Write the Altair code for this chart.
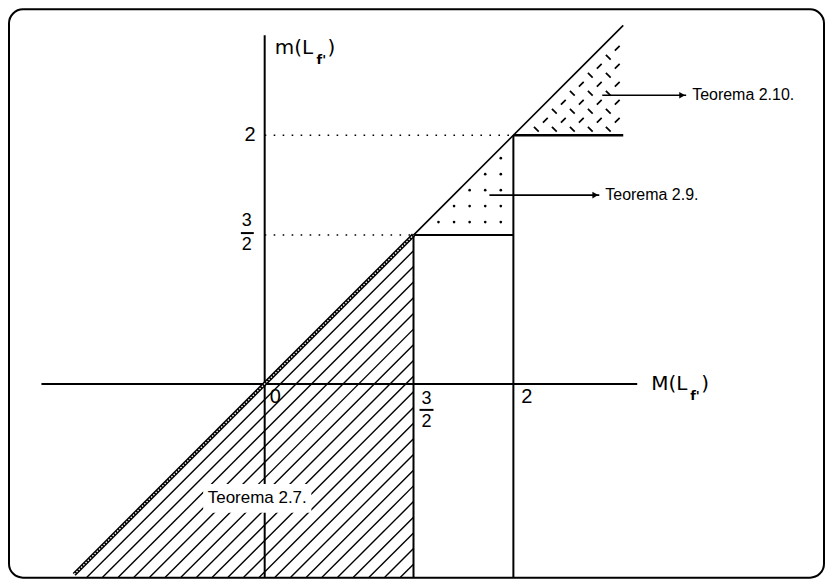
import altair as alt
import pandas as pd
import numpy as np

# ---- schematic piecewise axes (data units) ----
X_DOMAIN = [-2.4, 0, 1.5, 2, 4.2]
Y_DOMAIN = [-2.1, 0, 1.5, 2, 3.0]
X_RANGE = [17.6, 256, 405, 505, 945]
Y_RANGE = [583.6, 375, 226, 126, -74]

# ---- structural segments ----
frame_x1 = [-2.25, 0.0, 1.5, 2.0, 1.5, 2.0]
frame_y1 = [0.0, -1.95, -1.95, -1.95, 1.5, 2.0]
frame_x2 = [2.62, 0.0, 1.5, 2.0, 2.0, 2.55]
frame_y2 = [0.0, 2.5, 1.5, 2.0, 1.5, 2.0]
frame_w = [2, 2, 2, 2, 2, 2.6]

diag_lo = [-1.92, 1.5]
diag_hi = [1.5, 2.55]

dotted_y = [1.5, 2.0]
dotted_x_end = [1.5, 2.0]

# regions
hatch_bottom = -1.95
hatch_right = 1.5

# arrows / annotations
arrow_x1 = [2.445, 1.88]
arrow_x2 = [2.865, 2.43]
arrow_y = [2.2, 1.7]
note_x = [2.895, 2.46]
note_text = ["Teorema 2.10.", "Teorema 2.9."]

box27 = dict(x=-0.62, x2=0.47, y=-1.01, y2=-1.30)
label27 = dict(x=-0.075, y=-1.155, t="Teorema 2.7.")

FONT = "Liberation Sans"
TFONT = "DejaVu Sans"

xs = alt.Scale(domain=X_DOMAIN, range=X_RANGE, nice=False, zero=False)
ys = alt.Scale(domain=Y_DOMAIN, range=Y_RANGE, nice=False, zero=False)
X = lambda: alt.X("x:Q", scale=xs, axis=None)
Y = lambda: alt.Y("y:Q", scale=ys, axis=None)


def segs(df, **mk):
    return alt.Chart(df).mark_rule(**mk).encode(
        x=X(), y=Y(), x2=alt.X2("x2"), y2=alt.Y2("y2"))


# ---- hatch lines (texture) for Teorema 2.7 region: parallel to diagonal ----
hatch_step = 0.158
hx1, hy1, hx2, hy2 = [], [], [], []
c = hatch_step
while hatch_bottom + c < hatch_right:
    hx1.append(hatch_bottom + c); hy1.append(hatch_bottom)
    hx2.append(hatch_right); hy2.append(hatch_right - c)
    c += hatch_step
hatch = pd.DataFrame(dict(x=hx1, y=hy1, x2=hx2, y2=hy2))

# ---- dot texture for Teorema 2.9 triangle ----
dx_, dy_ = [], []
for xv in np.arange(1.625, 1.98, 0.078):
    for yv in np.arange(1.565, 1.98, 0.08):
        if yv < xv - 0.05:
            dx_.append(xv); dy_.append(yv)
dots = pd.DataFrame(dict(x=dx_, y=dy_))

# ---- dashed texture for Teorema 2.10 triangle ----
ax1, ay1, ax2, ay2 = [], [], [], []
h = 0.012
sp = 0.045
for j in range(0, 14):
    for i in range(0, 14):
        if (i + j) % 2:
            continue
        xc = 2.025 + sp * i
        yc = 2.03 + sp * j
        if yc - h < 2.014 or xc + h > 2.55 or yc + h > xc - h - 0.014:
            continue
        if j % 2 == 0:   # "\" dash
            ax1.append(xc - h); ay1.append(yc + h); ax2.append(xc + h); ay2.append(yc - h)
        else:            # "/" dash
            ax1.append(xc - h); ay1.append(yc - h); ax2.append(xc + h); ay2.append(yc + h)
dashes = pd.DataFrame(dict(x=ax1, y=ay1, x2=ax2, y2=ay2))

layers = []
layers.append(segs(hatch, color="black", strokeWidth=1.4))
layers.append(alt.Chart(dots).mark_circle(color="black", size=7, opacity=1).encode(x=X(), y=Y()))
layers.append(segs(dashes, color="black", strokeWidth=1.7))

dotted = pd.DataFrame(dict(x=[0.0] * len(dotted_y), y=dotted_y, x2=dotted_x_end, y2=dotted_y))
layers.append(segs(dotted, color="black", strokeWidth=1.6, strokeDash=[1.6, 7.4]))

frame = pd.DataFrame(dict(x=frame_x1, y=frame_y1, x2=frame_x2, y2=frame_y2, w=frame_w))
layers.append(alt.Chart(frame).mark_rule(color="black").encode(
    x=X(), y=Y(), x2=alt.X2("x2"), y2=alt.Y2("y2"),
    strokeWidth=alt.StrokeWidth("w:Q", scale=None)))

dlo = pd.DataFrame(dict(x=[diag_lo[0]], y=[diag_lo[0]], x2=[diag_lo[1]], y2=[diag_lo[1]]))
layers.append(segs(dlo, color="black", strokeWidth=4.2))
layers.append(segs(dlo, color="white", strokeWidth=1.3, strokeDash=[1.6, 1.6]))
dhi = pd.DataFrame(dict(x=[diag_hi[0]], y=[diag_hi[0]], x2=[diag_hi[1]], y2=[diag_hi[1]]))
layers.append(segs(dhi, color="black", strokeWidth=1.6))

# Teorema 2.7 label on white box
layers.append(alt.Chart(pd.DataFrame([box27])).mark_rect(color="white").encode(
    x=X(), y=Y(), x2=alt.X2("x2"), y2=alt.Y2("y2")))
layers.append(alt.Chart(pd.DataFrame([label27])).mark_text(
    font=FONT, fontSize=17, align="center", baseline="middle", color="black").encode(
    x=X(), y=Y(), text="t:N"))

# arrows
arr = pd.DataFrame(dict(x=arrow_x1, y=arrow_y, x2=arrow_x2, y2=arrow_y))
layers.append(segs(arr, color="black", strokeWidth=1.6))
heads = pd.DataFrame(dict(x=[v - 0.02 for v in arrow_x2], y=arrow_y))
layers.append(alt.Chart(heads).mark_point(shape="triangle-right", filled=True, color="black",
                                          size=45, opacity=1).encode(x=X(), y=Y()))
notes = pd.DataFrame(dict(x=note_x, y=arrow_y, t=note_text))
layers.append(alt.Chart(notes).mark_text(font=FONT, fontSize=16, align="left",
                                         baseline="middle", color="black").encode(
    x=X(), y=Y(), text="t:N"))


def txt(x, y, t, size=20, align="left", baseline="middle", dx=0, dy=0, weight="normal", font=FONT):
    return alt.Chart(pd.DataFrame(dict(x=[x], y=[y], t=[t]))).mark_text(
        font=font, fontSize=size, align=align, baseline=baseline, dx=dx, dy=dy,
        fontWeight=weight, color="black").encode(x=X(), y=Y(), text="t:N")


# tick labels
layers.append(txt(0, 2.0, "2", align="right", dx=-9))
layers.append(txt(0, 1.5, "3", size=18, align="center", dx=-18, dy=-14))
layers.append(txt(0, 1.5, "2", size=18, align="center", dx=-18, dy=10))
layers.append(txt(0, 0, "0", align="left", dx=5, dy=13))
layers.append(txt(1.5, 0, "3", size=18, align="center", dx=13, dy=15))
layers.append(txt(1.5, 0, "2", size=18, align="center", dx=13, dy=38))
layers.append(txt(2.0, 0, "2", align="left", dx=8, dy=13))
fracs = pd.DataFrame(dict(x=[-0.24, 1.53], y=[1.51, -0.262], x2=[-0.11, 1.60], y2=[1.51, -0.262]))
layers.append(segs(fracs, color="black", strokeWidth=2))

# axis titles
layers.append(txt(0, 2.5, "m(L", dx=10, dy=13, font=TFONT))
layers.append(txt(0, 2.5, "f'", size=13, dx=52, dy=25, weight="bold", font=TFONT))
layers.append(txt(0, 2.5, ")", dx=63, dy=13, font=TFONT))
layers.append(txt(2.69, 0, "M(L", dx=0, dy=0, font=TFONT))
layers.append(txt(2.69, 0, "f'", size=13, dx=39, dy=12, weight="bold", font=TFONT))
layers.append(txt(2.69, 0, ")", dx=50, dy=0, font=TFONT))

chart = alt.layer(*layers).properties(
    width=816, height=569,
    autosize=alt.AutoSizeParams(type="none"),
    padding=1,
).configure(
    background="white"
).configure_view(
    stroke="black", strokeWidth=2, cornerRadius=14
)

chart.save("out.html", embed_options={"renderer": "svg", "actions": False})
